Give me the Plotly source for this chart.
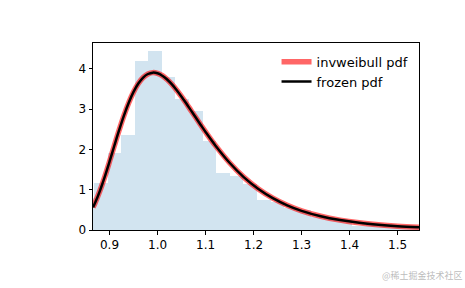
import plotly.graph_objects as go

# histogram (density)
bin_edges = [0.8392, 0.8675, 0.8958, 0.9241, 0.9524, 0.9807, 1.0090, 1.0373, 1.0656,
             1.0939, 1.1222, 1.1505, 1.1788, 1.2071, 1.2354, 1.2637, 1.2920,
             1.3203, 1.3486, 1.3769, 1.4052, 1.4335, 1.4618, 1.4901, 1.5184, 1.5467]
bin_heights = [0.80, 1.16, 1.92, 2.35, 4.20, 4.44, 3.81, 3.25, 2.96, 2.20, 1.41, 1.35,
               1.15, 0.75, 0.70, 0.55, 0.50, 0.33, 0.28, 0.22, 0.10, 0.14, 0.09,
               0.07, 0.06]

# pdf curve
curve_x = [0.8656, 0.87, 0.88, 0.89, 0.90, 0.91, 0.92, 0.93, 0.94, 0.95, 0.96, 0.97,
           0.98, 0.99, 1.00, 1.01, 1.02, 1.03, 1.04, 1.05, 1.06, 1.07, 1.08, 1.09,
           1.10, 1.12, 1.15, 1.18, 1.21, 1.24, 1.27, 1.30, 1.34, 1.38, 1.42, 1.46,
           1.50, 1.5445]
curve_y = [0.563, 0.675, 0.973, 1.320, 1.700, 2.093, 2.480, 2.842, 3.162, 3.430, 3.638,
           3.787, 3.875, 3.909, 3.892, 3.833, 3.738, 3.616, 3.471, 3.311, 3.141, 2.964,
           2.787, 2.610, 2.436, 2.107, 1.670, 1.308, 1.019, 0.791, 0.614, 0.476, 0.341,
           0.246, 0.178, 0.130, 0.095, 0.068]

x_range = [0.8656, 1.5445]
y_range = [0, 4.645]
x_ticks = [0.9, 1.0, 1.1, 1.2, 1.3, 1.4, 1.5]
x_tick_text = ["0.9", "1.0", "1.1", "1.2", "1.3", "1.4", "1.5"]
y_ticks = [0, 1, 2, 3, 4]

centers = [(a + b) / 2 for a, b in zip(bin_edges[:-1], bin_edges[1:])]
widths = [b - a for a, b in zip(bin_edges[:-1], bin_edges[1:])]

fig = go.Figure()
fig.add_trace(go.Bar(x=centers, y=bin_heights, width=widths,
                     marker=dict(color="rgb(210,228,240)", line=dict(width=0)),
                     showlegend=False, hoverinfo="skip"))
fig.add_trace(go.Scatter(x=curve_x, y=curve_y, mode="lines", name="invweibull pdf",
                         line=dict(color="rgba(255,0,0,0.6)", width=5.5, shape="spline")))
fig.add_trace(go.Scatter(x=curve_x, y=curve_y, mode="lines", name="frozen pdf",
                         line=dict(color="black", width=2.5, shape="spline")))

axis_common = dict(showgrid=False, zeroline=False, showline=True, linecolor="black",
                   linewidth=1, mirror=True, ticks="outside", ticklen=3.5,
                   tickwidth=1, tickcolor="black",
                   tickfont=dict(family="DejaVu Sans", size=12, color="black"))

fig.update_layout(
    width=465, height=288,
    margin=dict(l=93, r=46, t=43, b=58),
    paper_bgcolor="white", plot_bgcolor="white",
    bargap=0,
    xaxis=dict(range=x_range, tickvals=x_ticks, ticktext=x_tick_text, **axis_common),
    yaxis=dict(range=y_range, tickvals=y_ticks, **axis_common),
    legend=dict(x=0.563, y=0.98, xanchor="left", yanchor="top",
                bgcolor="rgba(0,0,0,0)", borderwidth=0,
                font=dict(family="DejaVu Sans", size=13, color="black"),
                tracegroupgap=0, itemwidth=30),
    annotations=[dict(text="@稀土掘金技术社区", xref="paper", yref="paper",
                      x=1.14, y=-0.2, xanchor="right", yanchor="top", showarrow=False,
                      font=dict(family="Noto Sans CJK SC", size=9, color="rgba(170,170,170,0.8)"))],
)

fig.write_html("out.html")
